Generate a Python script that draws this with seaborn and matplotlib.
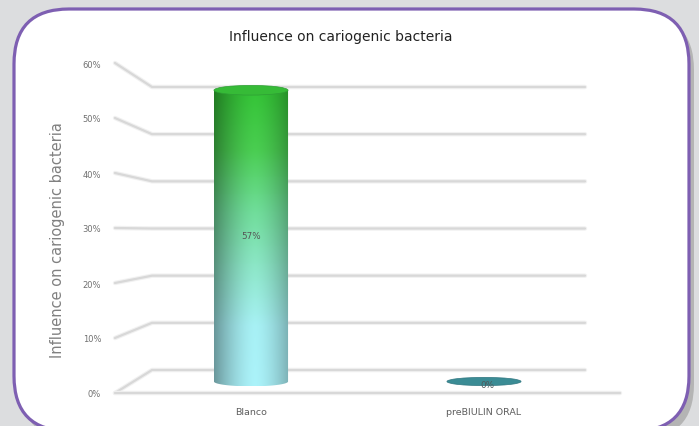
import numpy as np
import pandas as pd
import matplotlib
matplotlib.use("Agg")
import matplotlib.pyplot as plt
import seaborn as sns
from matplotlib.patches import FancyBboxPatch, Ellipse, PathPatch
from matplotlib.path import Path
from matplotlib.lines import Line2D
from matplotlib.colors import LinearSegmentedColormap

# ---------------- data ----------------
categories = ["Blanco", "preBIULIN ORAL"]
values = [57, 0]
tick_values = [0, 10, 20, 30, 40, 50, 60]
tick_labels = ["0%", "10%", "20%", "30%", "40%", "50%", "60%"]
title = "Influence on cariogenic bacteria"
ylabel = "Influence on cariogenic bacteria"

sns.set_theme(style="white")
plt.rcParams["font.family"] = ["DejaVu Sans"]

W, H = 699, 427
fig = plt.figure(figsize=(W / 100, H / 100), dpi=100)
fig.patch.set_facecolor("#dcdddf")


def rect(x0, y0, x1, y1):
    """pixel box (top-left origin) -> figure fraction rect"""
    return [x0 / W, 1 - y1 / H, (x1 - x0) / W, (y1 - y0) / H]


# background axes in pixel units
ax_bg = fig.add_axes([0, 0, 1, 1])
ax_bg.set_xlim(0, W)
ax_bg.set_ylim(H, 0)
ax_bg.axis("off")
ax_bg.set_zorder(-10)
ax_bg.add_patch(FancyBboxPatch((20, 16), 674, 424,
                               boxstyle="round,pad=0,rounding_size=55",
                               facecolor="#b4b4b4", edgecolor="none", zorder=0))
ax_bg.add_patch(FancyBboxPatch((14, 10), 675, 422,
                               boxstyle="round,pad=0,rounding_size=55",
                               facecolor="white", edgecolor="#7e5fb2",
                               linewidth=2.3, zorder=1))

# three "planes" of the pseudo-3D chart
ax_front = fig.add_axes(rect(115, 64, 620, 394))
ax_back = fig.add_axes(rect(152, 88, 585, 371))
k = (382.5 - 75.9) / 60.0
ax_mid = fig.add_axes(rect(134.5, 75.9, 600.5, 382.5 + 4 * k))

for a in (ax_front, ax_back, ax_mid):
    a.patch.set_alpha(0)
    for s in a.spines.values():
        s.set_visible(False)
ax_front.set_ylim(0, 60)
ax_back.set_ylim(0, 60)
ax_front.set_xlim(0, 1)
ax_back.set_xlim(0, 1)
ax_back.set_xticks([])
ax_back.set_yticks([])

ax_front.set_xticks([])
ax_front.set_yticks(tick_values)
ax_front.set_yticklabels(tick_labels)
ax_front.tick_params(axis="y", length=0, pad=10, labelsize=6, labelcolor="#707070")
ax_front.set_ylabel(ylabel, fontsize=10.5, color="#808080")
ax_front.yaxis.set_label_coords(-0.099, 0.467)

# gridlines: front label -> back wall -> across back wall
fig.canvas.draw()
inv = fig.transFigure.inverted()
grid_col = "#d8d8d8"
halo_col = "#f1f1f1"
for v in tick_values:
    p1 = ax_front.transData.transform((0, v))
    p2 = ax_back.transData.transform((0, v))
    p3 = ax_back.transData.transform((1, v))
    pts = inv.transform(np.array([p1, p2, p3]))
    for lw, col in ((3.2, halo_col), (1.6, grid_col)):
        fig.add_artist(Line2D(pts[:, 0], pts[:, 1], transform=fig.transFigure,
                              color=col, lw=lw, solid_capstyle="round",
                              solid_joinstyle="round", zorder=1))
# front floor edge
f0 = inv.transform(np.array([ax_front.transData.transform((0, 0)),
                             ax_front.transData.transform((1, 0))]))
for lw, col in ((3.2, halo_col), (1.6, grid_col)):
    fig.add_artist(Line2D(f0[:, 0], f0[:, 1], transform=fig.transFigure,
                          color=col, lw=lw, solid_capstyle="round", zorder=1))

# ---------------- bars ----------------
df = pd.DataFrame({"cat": categories, "val": values})
ax_mid.set_zorder(5)
sns.barplot(data=df, x="cat", y="val", ax=ax_mid, width=0.318,
            color="#3b8c95", saturation=1)
ax_mid.set_xlim(-0.5, 1.5)
ax_mid.set_ylim(-4, 60)
ax_mid.set_yticks([])
ax_mid.set_xlabel("")
ax_mid.set_ylabel("")
ax_mid.tick_params(axis="x", length=0, pad=4, labelsize=6.8, labelcolor="#5e5e5e")

e = 1.9  # ellipse height in data units
cmap_v = LinearSegmentedColormap.from_list(
    "cyl", ["#a8eef5", "#a4ecf0", "#8ae2c4", "#6cd894", "#48c94f", "#33c035"])
ny, nx = 240, 90
tv = np.linspace(0, 1, ny)[:, None]
xs = np.linspace(-1, 1, nx)[None, :]
shade = 0.64 + 0.38 * np.clip(1 - np.abs((xs - 0.1) / 1.1) ** 1.6, 0, 1)
base = cmap_v(tv)[..., :3]
img = np.clip(base * shade[..., None], 0, 1)
img = img[::-1]

for patch, v in zip(list(ax_mid.patches), values):
    x0 = patch.get_x()
    w = patch.get_width()
    h = patch.get_height()
    cx = x0 + w / 2
    patch.set_visible(False)
    if h > 0:
        t = np.linspace(np.pi, 2 * np.pi, 60)
        arc = np.column_stack([cx + w / 2 * np.cos(t), e / 2 * np.sin(t)])
        verts = np.vstack([[[x0, h]], [[x0, 0]], arc, [[x0 + w, h]], [[x0, h]]])
        clip = PathPatch(Path(verts), transform=ax_mid.transData,
                         facecolor="none", edgecolor="none")
        ax_mid.add_patch(clip)
        im = ax_mid.imshow(img, extent=[x0, x0 + w, -e / 2, h], aspect="auto",
                           interpolation="bilinear", zorder=3)
        im.set_clip_path(clip)
        ax_mid.add_patch(Ellipse((cx, h), w, e, facecolor="#36bb37",
                                 edgecolor="#2e9f34", lw=0.5, zorder=4))
        ax_mid.text(cx, h / 2, f"{v}%", ha="center", va="center",
                    fontsize=6.3, color="#555555", zorder=6)
    else:
        ax_mid.add_patch(Ellipse((cx, 0), w, e * 0.85, facecolor="#3b8c95",
                                 edgecolor="#2f7680", lw=0.5, zorder=4))
        ax_mid.text(cx + 0.015, -0.55, f"{v}%", ha="center", va="center",
                    fontsize=6.3, color="#505a5c", zorder=6)
ax_mid.set_xlim(-0.5, 1.5)
ax_mid.set_ylim(-4, 60)

fig.text(341 / W, 1 - 37 / H, title, ha="center", va="center",
         fontsize=10, color="#222222")

fig.savefig("out.png", dpi=100, facecolor=fig.get_facecolor())
